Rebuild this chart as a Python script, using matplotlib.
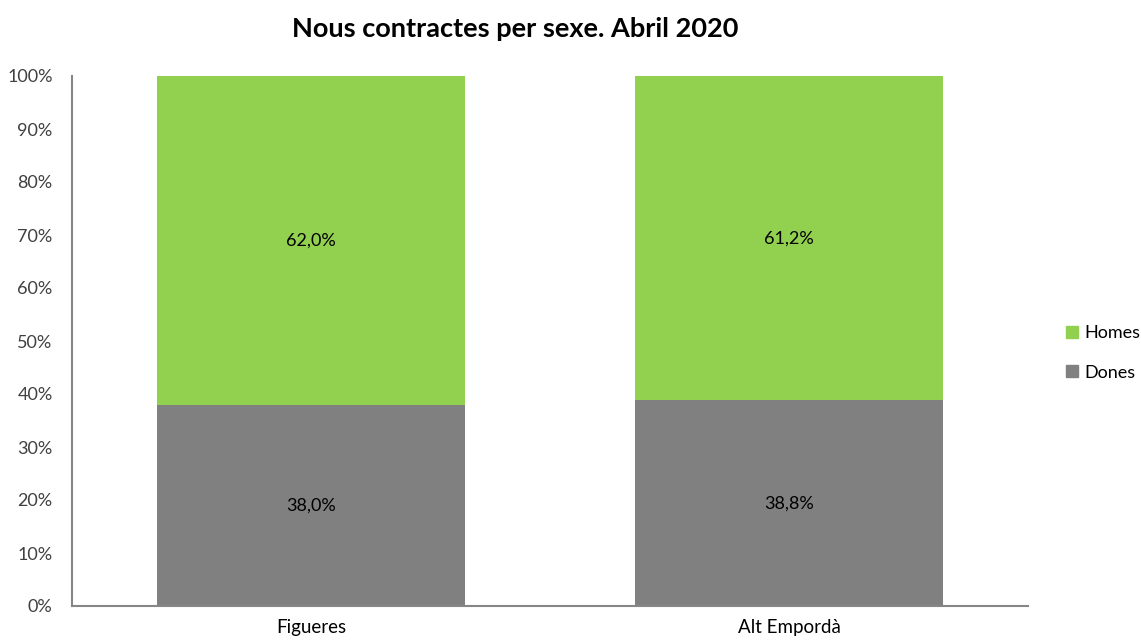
import matplotlib
matplotlib.use("Agg")
import matplotlib.pyplot as plt
from matplotlib.patches import Patch

categories = ["Figueres", "Alt Empordà"]
dones = [38.0, 38.8]
homes = [62.0, 61.2]
yticks = [0, 10, 20, 30, 40, 50, 60, 70, 80, 90, 100]

plt.rcParams['font.family'] = ['Lato', 'DejaVu Sans']

fig = plt.figure(figsize=(11.41, 6.4), dpi=100)
ax = fig.add_axes([72/1141, 1-606/640, (1028-72)/1141, (606-76)/640])

c_green = "#92D050"
c_gray = "#808080"
x = list(range(len(categories)))
w = 0.644
ax.bar(x, dones, width=w, color=c_gray, label="Dones")
ax.bar(x, homes, width=w, bottom=dones, color=c_green, label="Homes")

for i in x:
    ax.text(i, dones[i]/2, f"{dones[i]:.1f}%".replace(".", ","), ha="center", va="center", fontsize=13, color="#000000")
    ax.text(i, dones[i] + homes[i]/2, f"{homes[i]:.1f}%".replace(".", ","), ha="center", va="center", fontsize=13, color="#000000")

ax.set_xlim(-0.5, 1.5)
ax.set_ylim(0, 100)
ax.set_yticks(yticks)
ax.set_yticklabels([f"{t}%" for t in yticks], fontsize=13, color="#404040")
ax.set_xticks(x)
ax.set_xticklabels(categories, fontsize=13.5, color="#000000")
ax.tick_params(axis="y", length=0, pad=14)
ax.tick_params(axis="x", length=0, pad=9)
for s in ["top", "right"]:
    ax.spines[s].set_visible(False)
for s in ["left", "bottom"]:
    ax.spines[s].set_color("#868686")
    ax.spines[s].set_linewidth(1.5)

fig.text(515/1141, 1-29/640, "Nous contractes per sexe. Abril 2020", ha="center", va="center",
         fontsize=19.5, fontweight="bold")

handles = [Patch(color=c_green, label="Homes"), Patch(color=c_gray, label="Dones")]
fig.legend(handles=handles, loc="center left", bbox_to_anchor=(1066/1141, 1-353/640),
           frameon=False, fontsize=13, handlelength=0.65, handleheight=0.65,
           handletextpad=0.35, labelspacing=1.3, borderpad=0, borderaxespad=0)

fig.savefig("out.png", dpi=100)
